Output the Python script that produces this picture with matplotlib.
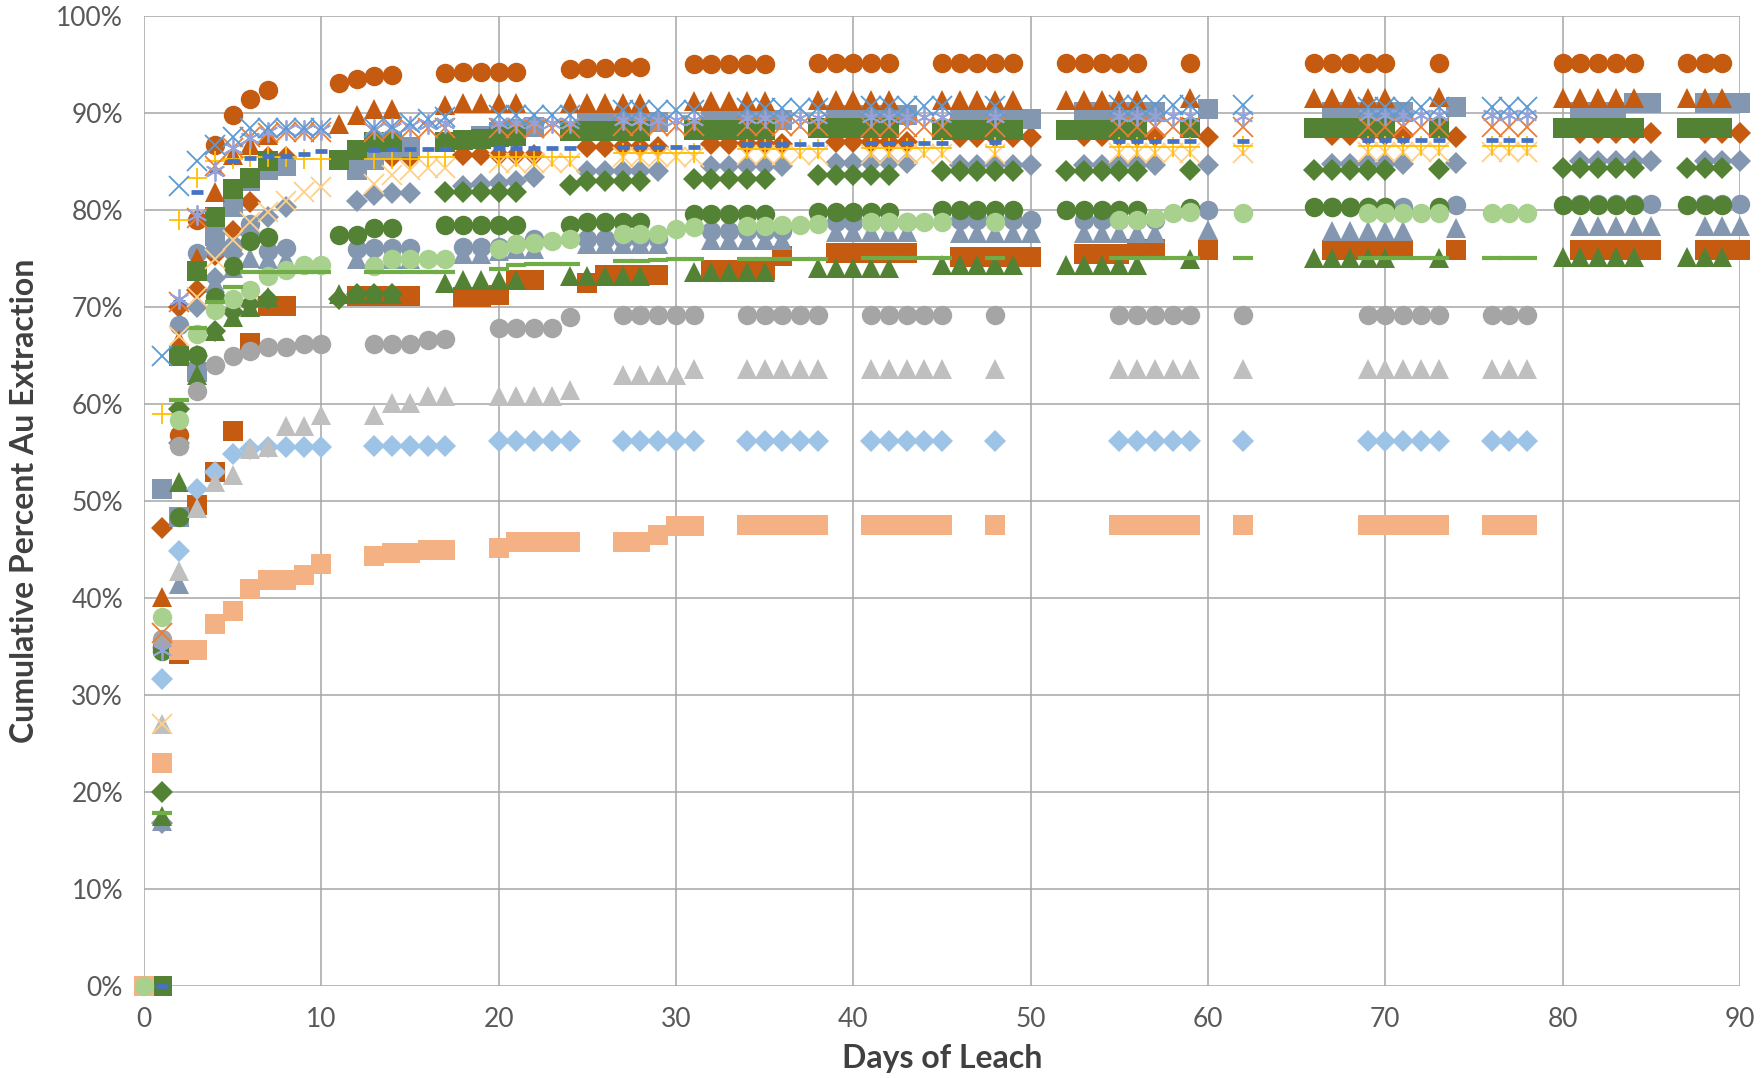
import numpy as np
import matplotlib.pyplot as plt
from matplotlib.ticker import PercentFormatter

nan = np.nan

# sampling days of the three groups of columns
days_a = [0, 1, 2, 3, 4, 5, 6, 7, 8, 9, 10,
          13, 14, 15, 16, 17,
          20, 21, 22, 23, 24,
          27, 28, 29, 30, 31,
          34, 35, 36, 37, 38,
          41, 42, 43, 44, 45,
          48,
          55, 56, 57, 58, 59,
          62,
          69, 70, 71, 72, 73,
          76, 77, 78]

days_b = [0, 1, 2, 3, 4, 5, 6, 7,
          11, 12, 13, 14,
          17, 18, 19, 20, 21,
          24, 25, 26, 27, 28,
          31, 32, 33, 34, 35,
          38, 39, 40, 41, 42,
          45, 46, 47, 48, 49,
          52, 53, 54, 55, 56,
          59,
          66, 67, 68, 69, 70,
          73,
          80, 81, 82, 83, 84,
          87, 88, 89]

days_c = [0, 1, 2, 3, 4, 5, 6, 7, 8,
          12, 13, 14, 15,
          18, 19, 20, 21, 22,
          25, 26, 27, 28, 29,
          32, 33, 34, 35, 36,
          39, 40, 41, 42, 43,
          46, 47, 48, 49, 50,
          53, 54, 55, 56, 57,
          60,
          67, 68, 69, 70, 71,
          74,
          81, 82, 83, 84, 85,
          88, 89, 90]

# ---- group C (to day 90)
orange_sq = [nan, 0.0, 34.2, 49.6, 53.0, 57.2, 66.3, 70.1, 70.1,
             71.1, 71.1, 71.1, 71.1,
             71.0, 71.0, 71.2, 72.8, 72.8,
             72.5, 73.3, 73.3, 73.3, 73.3,
             73.8, 73.8, 73.8, 73.8, 75.3,
             75.6, 75.6, 75.6, 75.6, 75.6,
             75.2, 75.2, 75.2, 75.2, 75.2,
             75.5, 75.5, 75.5, 76.0, 76.0,
             75.9,
             75.9, 75.9, 75.9, 75.9, 75.9,
             75.9,
             75.9, 75.9, 75.9, 75.9, 75.9,
             75.9, 75.9, 75.9]

orange_dia = [nan, 47.2, 70.0, 71.8, 75.4, 77.8, 80.8, 85.5, 85.5,
              85.1, 85.5, 85.5, 85.5,
              85.7, 85.7, 85.7, 85.7, 85.7,
              86.5, 86.5, 86.5, 86.5, 86.5,
              86.8, 86.8, 86.8, 86.8, 86.8,
              87.0, 87.0, 87.0, 87.0, 87.0,
              87.5, 87.5, 87.5, 87.5, 87.5,
              87.6, 87.6, 87.6, 87.6, 87.6,
              87.5,
              87.7, 87.7, 87.7, 87.7, 87.7,
              87.5,
              87.9, 87.9, 87.9, 87.9, 87.9,
              87.9, 87.9, 87.9]

bg_tri = [nan, 17.0, 41.4, 64.5, 72.5, 74.0, 75.0, 74.9, 74.9,
          74.9, 74.9, 74.9, 74.9,
          75.5, 75.5, 75.8, 76.0, 76.0,
          76.5, 76.5, 76.5, 76.5, 76.5,
          76.9, 76.9, 76.9, 76.9, 76.9,
          77.7, 77.7, 77.7, 77.7, 77.7,
          77.6, 77.6, 77.6, 77.6, 77.6,
          77.6, 77.6, 77.6, 77.6, 77.6,
          77.9,
          77.8, 77.8, 77.8, 77.8, 77.8,
          78.1,
          78.3, 78.3, 78.3, 78.3, 78.3,
          78.3, 78.3, 78.3]

bg_circ = [nan, 35.0, 68.1, 75.6, 76.0, 76.3, 78.6, 75.8, 76.1,
           76.0, 76.1, 76.1, 76.1,
           76.2, 76.2, 76.2, 76.5, 77.0,
           77.0, 77.0, 77.0, 77.0, 77.0,
           77.8, 77.8, 77.8, 77.8, 77.8,
           78.8, 78.8, 78.8, 78.8, 78.8,
           79.0, 79.0, 79.0, 79.0, 79.0,
           79.0, 79.0, 79.0, 79.0, 79.0,
           80.0,
           80.3, 80.3, 80.3, 80.3, 80.3,
           80.5,
           80.6, 80.6, 80.6, 80.6, 80.6,
           80.6, 80.6, 80.6]

bg_dia = [nan, 16.8, 56.0, 70.0, 73.0, 75.5, 77.5, 79.3, 80.3,
          80.9, 81.5, 81.8, 81.8,
          82.5, 82.7, 82.8, 83.0, 83.4,
          84.0, 84.0, 84.0, 84.0, 84.0,
          84.5, 84.5, 84.5, 84.5, 84.5,
          84.8, 84.8, 84.8, 84.8, 84.8,
          84.6, 84.6, 84.6, 84.6, 84.6,
          84.6, 84.6, 84.6, 84.6, 84.6,
          84.6,
          84.7, 84.7, 84.7, 84.7, 84.7,
          84.8,
          85.0, 85.0, 85.0, 85.0, 85.0,
          85.0, 85.0, 85.0]

bg_sq = [nan, 51.2, 48.4, 63.3, 77.3, 80.3, 83.0, 84.1, 84.5,
         84.1, 85.1, 86.2, 86.5,
         87.2, 87.6, 88.0, 88.3, 88.6,
         89.1, 89.1, 89.1, 89.1, 89.1,
         89.3, 89.3, 89.3, 89.3, 89.3,
         89.8, 89.8, 89.8, 89.8, 89.8,
         89.4, 89.4, 89.4, 89.4, 89.4,
         90.1, 90.1, 90.1, 90.1, 90.1,
         90.4,
         90.1, 90.1, 90.1, 90.1, 90.1,
         90.6,
         90.1, 90.1, 90.1, 91.0, 91.0,
         91.0, 91.0, 91.0]

# ---- group B (to day 89)
orange_circ = [nan, 35.0, 56.8, 79.0, 86.7, 89.8, 91.4, 92.4,
               93.1, 93.5, 93.8, 93.9,
               94.1, 94.2, 94.2, 94.2, 94.2,
               94.5, 94.6, 94.6, 94.7, 94.7,
               95.0, 95.0, 95.0, 95.0, 95.0,
               95.2, 95.2, 95.2, 95.2, 95.2,
               95.2, 95.2, 95.2, 95.2, 95.2,
               95.2, 95.2, 95.2, 95.2, 95.2,
               95.2,
               95.2, 95.2, 95.2, 95.2, 95.2,
               95.2,
               95.2, 95.2, 95.2, 95.2, 95.2,
               95.2, 95.2, 95.2]

orange_tri = [nan, 40.1, 66.6, 75.0, 81.9, 85.7, 86.7, 87.7,
              88.9, 89.8, 90.4, 90.4,
              90.8, 91.0, 91.0, 91.0, 91.0,
              91.0, 91.0, 91.0, 91.0, 91.0,
              91.2, 91.2, 91.2, 91.2, 91.2,
              91.3, 91.3, 91.3, 91.3, 91.3,
              91.3, 91.3, 91.3, 91.3, 91.3,
              91.3, 91.3, 91.3, 91.3, 91.3,
              91.5,
              91.5, 91.5, 91.5, 91.5, 91.5,
              91.6,
              91.5, 91.5, 91.5, 91.5, 91.5,
              91.5, 91.5, 91.5]

green_tri = [nan, 17.5, 52.0, 63.0, 67.5, 69.0, 70.0, 71.0,
             71.3, 71.3, 71.3, 71.3,
             72.5, 72.8, 72.8, 72.8, 72.8,
             73.2, 73.2, 73.2, 73.2, 73.2,
             73.6, 73.6, 73.6, 73.6, 73.6,
             74.0, 74.0, 74.0, 74.0, 74.0,
             74.3, 74.3, 74.3, 74.3, 74.3,
             74.3, 74.3, 74.3, 74.3, 74.3,
             74.9,
             75.0, 75.0, 75.0, 75.0, 75.0,
             75.0,
             75.2, 75.2, 75.2, 75.2, 75.2,
             75.2, 75.2, 75.2]

green_circ = [nan, 34.5, 48.4, 65.0, 71.0, 74.2, 76.8, 77.2,
              77.4, 77.4, 78.1, 78.1,
              78.4, 78.4, 78.4, 78.4, 78.4,
              78.5, 78.8, 78.8, 78.8, 78.8,
              79.6, 79.6, 79.6, 79.6, 79.6,
              79.8, 79.8, 79.8, 79.8, 79.8,
              80.0, 80.0, 80.0, 80.0, 80.0,
              80.0, 80.0, 80.0, 80.0, 80.0,
              80.2,
              80.3, 80.3, 80.3, 80.3, 80.3,
              80.3,
              80.5, 80.5, 80.5, 80.5, 80.5,
              80.5, 80.5, 80.5]

green_dia = [nan, 20.0, 59.5, 64.9, 67.5, 69.5, 70.3, 70.8,
             70.8, 71.3, 71.3, 71.3,
             81.9, 81.9, 81.9, 81.9, 81.9,
             82.6, 83.0, 83.0, 83.0, 83.0,
             83.2, 83.2, 83.2, 83.2, 83.2,
             83.6, 83.6, 83.6, 83.6, 83.6,
             84.0, 84.0, 84.0, 84.0, 84.0,
             84.0, 84.0, 84.0, 84.0, 84.0,
             84.1,
             84.1, 84.1, 84.1, 84.1, 84.1,
             84.2,
             84.3, 84.3, 84.3, 84.3, 84.3,
             84.3, 84.3, 84.3]

green_sq = [nan, 0.0, 64.9, 73.7, 79.3, 82.2, 83.3, 85.0,
            85.1, 86.2, 87.0, 87.0,
            87.0, 87.2, 87.3, 87.5, 87.6,
            88.1, 88.1, 88.1, 88.1, 88.1,
            88.2, 88.2, 88.2, 88.2, 88.2,
            88.4, 88.4, 88.4, 88.4, 88.4,
            88.2, 88.2, 88.2, 88.2, 88.2,
            88.2, 88.2, 88.2, 88.2, 88.2,
            88.5,
            88.5, 88.5, 88.5, 88.5, 88.5,
            88.5,
            88.5, 88.5, 88.5, 88.5, 88.5,
            88.5, 88.5, 88.5]

# ---- group A (to day 78)
salmon_sq = [0.0, 23.0, 34.6, 34.6, 37.3, 38.7, 40.9, 41.9, 41.9, 42.4, 43.5,
             44.3, 44.6, 44.6, 44.9, 44.9,
             45.2, 45.8, 45.8, 45.8, 45.8,
             45.8, 45.8, 46.5, 47.4, 47.4,
             47.5, 47.5, 47.5, 47.5, 47.5,
             47.5, 47.5, 47.5, 47.5, 47.5,
             47.5,
             47.5, 47.5, 47.5, 47.5, 47.5,
             47.5,
             47.5, 47.5, 47.5, 47.5, 47.5,
             47.5, 47.5, 47.5]

ltblue_dia = [nan, 31.7, 44.8, 51.2, 53.0, 54.8, 55.4, 55.6, 55.6, 55.6, 55.6,
              55.7, 55.7, 55.7, 55.7, 55.7,
              56.2, 56.2, 56.2, 56.2, 56.2,
              56.2, 56.2, 56.2, 56.2, 56.2,
              56.2, 56.2, 56.2, 56.2, 56.2,
              56.2, 56.2, 56.2, 56.2, 56.2,
              56.2,
              56.2, 56.2, 56.2, 56.2, 56.2,
              56.2,
              56.2, 56.2, 56.2, 56.2, 56.2,
              56.2, 56.2, 56.2]

ltgrey_tri = [nan, 27.0, 42.8, 49.3, 52.0, 52.7, 55.4, 55.6, 57.7, 57.7, 58.9,
              58.9, 60.1, 60.1, 60.8, 60.8,
              60.8, 60.8, 60.8, 60.8, 61.4,
              63.0, 63.0, 63.0, 63.0, 63.6,
              63.6, 63.6, 63.6, 63.6, 63.6,
              63.6, 63.6, 63.6, 63.6, 63.6,
              63.6,
              63.6, 63.6, 63.6, 63.6, 63.6,
              63.6,
              63.6, 63.6, 63.6, 63.6, 63.6,
              63.6, 63.6, 63.6]

grey_circ = [nan, 35.8, 55.7, 61.3, 64.0, 64.9, 65.5, 65.9, 65.9, 66.2, 66.2,
             66.2, 66.2, 66.2, 66.6, 66.7,
             67.8, 67.8, 67.8, 67.8, 69.0,
             69.2, 69.2, 69.2, 69.2, 69.2,
             69.2, 69.2, 69.2, 69.2, 69.2,
             69.2, 69.2, 69.2, 69.2, 69.2,
             69.2,
             69.2, 69.2, 69.2, 69.2, 69.2,
             69.2,
             69.2, 69.2, 69.2, 69.2, 69.2,
             69.2, 69.2, 69.2]

ltgreen_circ = [0.0, 38.0, 58.4, 67.2, 69.7, 70.8, 71.8, 73.2, 73.8, 74.3, 74.3,
                74.2, 74.9, 74.9, 74.9, 74.9,
                76.0, 76.5, 76.6, 76.8, 77.0,
                77.5, 77.5, 77.5, 78.0, 78.2,
                78.3, 78.3, 78.4, 78.5, 78.6,
                78.8, 78.8, 78.8, 78.8, 78.8,
                78.8,
                79.0, 79.0, 79.2, 79.7, 79.8,
                79.7,
                79.7, 79.7, 79.7, 79.7, 79.7,
                79.7, 79.7, 79.7]

ltgreen_dash = [nan, 17.8, 60.4, 67.8, 70.5, 72.1, 73.6, 73.6, 73.6, 73.6, 73.6,
                73.6, 73.6, 73.6, 73.6, 73.6,
                73.9, 74.3, 74.4, 74.4, 74.4,
                74.7, 74.7, 74.8, 74.9, 74.9,
                74.9, 74.9, 74.9, 74.9, 74.9,
                75.0, 75.0, 75.0, 75.0, 75.0,
                75.0,
                75.0, 75.0, 75.0, 75.0, 75.0,
                75.0,
                75.0, 75.0, 75.0, 75.0, 75.0,
                75.0, 75.0, 75.0]

peach_x = [nan, 27.0, 67.0, 71.0, 74.9, 76.9, 78.8, 79.8, 80.9, 81.9, 82.4,
           82.7, 83.6, 84.1, 84.3, 84.3,
           84.8, 84.8, 84.8, 84.8, 84.8,
           85.5, 85.5, 85.5, 85.5, 85.5,
           85.7, 85.7, 85.7, 85.7, 85.7,
           85.8, 85.8, 85.8, 85.8, 85.8,
           85.8,
           85.9, 85.9, 85.9, 85.9, 85.9,
           85.9,
           86.0, 86.0, 86.0, 86.0, 86.0,
           86.0, 86.0, 86.0]

yellow_plus = [nan, 59.0, 79.0, 83.3, 85.0, 85.3, 85.5, 85.5, 85.5, 85.3, 85.3,
               85.3, 85.3, 85.3, 85.5, 85.5,
               85.5, 85.5, 85.5, 85.5, 85.5,
               85.9, 85.9, 85.9, 85.9, 85.9,
               86.3, 86.3, 86.3, 86.3, 86.3,
               86.4, 86.4, 86.4, 86.4, 86.4,
               86.5,
               86.5, 86.5, 86.5, 86.5, 86.5,
               86.6,
               86.6, 86.6, 86.6, 86.6, 86.6,
               86.6, 86.6, 86.6]

blue_dash = [nan, 0.0, 70.5, 81.9, 84.0, 85.0, 85.4, 85.6, 85.6, 85.8, 86.1,
             86.2, 86.3, 86.3, 86.3, 86.3,
             86.4, 86.4, 86.4, 86.4, 86.4,
             86.5, 86.5, 86.5, 86.5, 86.5,
             86.8, 86.8, 86.8, 86.8, 86.8,
             86.9, 86.9, 86.9, 86.9, 86.9,
             87.0,
             87.1, 87.1, 87.1, 87.1, 87.1,
             87.1,
             87.2, 87.2, 87.2, 87.2, 87.2,
             87.2, 87.2, 87.2]

orange_x = [nan, 36.4, 70.5, 79.2, 84.5, 86.4, 87.5, 87.9, 88.0, 88.0, 88.0,
            88.0, 88.2, 88.3, 88.4, 88.5,
            88.5, 88.5, 88.5, 88.5, 88.5,
            88.7, 88.7, 88.7, 88.7, 88.7,
            88.7, 88.7, 88.7, 88.7, 88.7,
            88.6, 88.6, 88.6, 88.6, 88.6,
            88.6,
            88.6, 88.6, 88.6, 88.6, 88.6,
            88.6,
            88.6, 88.6, 88.6, 88.6, 88.6,
            88.6, 88.6, 88.6]

purple_star = [nan, 34.6, 70.8, 79.5, 84.0, 86.4, 87.4, 88.0, 88.2, 88.2, 88.2,
               88.3, 88.5, 88.7, 88.9, 89.0,
               89.0, 89.0, 89.0, 89.0, 89.0,
               89.3, 89.3, 89.3, 89.3, 89.3,
               89.5, 89.5, 89.5, 89.5, 89.5,
               89.6, 89.6, 89.6, 89.6, 89.6,
               89.6,
               89.7, 89.7, 89.7, 89.7, 89.7,
               89.7,
               89.8, 89.8, 89.8, 89.8, 89.8,
               89.8, 89.8, 89.8]

ltblue_x = [nan, 64.9, 82.5, 85.0, 86.7, 87.5, 88.4, 88.4, 88.4, 88.4, 88.4,
            88.4, 88.6, 89.0, 89.4, 89.6,
            89.8, 89.8, 89.8, 89.8, 89.8,
            90.3, 90.3, 90.3, 90.3, 90.3,
            90.5, 90.5, 90.5, 90.5, 90.5,
            90.7, 90.7, 90.7, 90.7, 90.7,
            90.7,
            90.8, 90.8, 90.8, 90.8, 90.8,
            90.8,
            90.6, 90.6, 90.6, 90.6, 90.6,
            90.6, 90.6, 90.6]

plt.rcParams['font.family'] = ['Lato', 'DejaVu Sans']

fig = plt.figure(figsize=(17.64, 10.78), dpi=100)
ax = fig.add_axes([0.0816, 0.0853, 0.9048, 0.8999])


def scatter(days, vals, marker, color, ms, mew=0.0, filled=True):
    x = np.array(days, dtype=float)
    y = np.array(vals, dtype=float) / 100.0
    if filled:
        ax.plot(x, y, ls='none', marker=marker, ms=ms, mfc=color, mec=color,
                mew=mew, clip_on=False)
    else:
        ax.plot(x, y, ls='none', marker=marker, ms=ms, mfc='none', mec=color,
                mew=mew, clip_on=False)


# bottom group first, Excel draws later series on top
scatter(days_c, orange_sq, 's', '#C55A11', 14.5)
scatter(days_c, orange_dia, 'D', '#C55A11', 11)
scatter(days_c, bg_tri, '^', '#8497B0', 14.5)
scatter(days_c, bg_circ, 'o', '#8497B0', 14)
scatter(days_c, bg_dia, 'D', '#8497B0', 11)
scatter(days_c, bg_sq, 's', '#8497B0', 14.5)

scatter(days_b, orange_circ, 'o', '#C55A11', 14)
scatter(days_b, orange_tri, '^', '#C55A11', 14.5)
scatter(days_b, green_tri, '^', '#548235', 14.5)
scatter(days_b, green_circ, 'o', '#548235', 14)
scatter(days_b, green_dia, 'D', '#548235', 11)
scatter(days_b, green_sq, 's', '#548235', 14.5)

scatter(days_a, salmon_sq, 's', '#F4B183', 14.5)
scatter(days_a, ltblue_dia, 'D', '#9DC3E6', 11)
scatter(days_a, ltgrey_tri, '^', '#BFBFBF', 14.5)
scatter(days_a, grey_circ, 'o', '#A5A5A5', 14)
scatter(days_a, ltgreen_circ, 'o', '#A9D18E', 14)
scatter(days_a, ltgreen_dash, '_', '#70AD47', 14, mew=3.0)
scatter(days_a, peach_x, 'x', '#FFCF87', 14.5, mew=1.3, filled=False)
scatter(days_a, yellow_plus, '+', '#FFC000', 14, mew=1.3, filled=False)
scatter(days_a, blue_dash, '_', '#4472C4', 8, mew=3.4)
scatter(days_a, orange_x, 'x', '#ED7D31', 14.5, mew=1.3, filled=False)
scatter(days_a, purple_star, (6, 2, 0), '#95A3DA', 14.5, mew=1.3, filled=False)
scatter(days_a, ltblue_x, 'x', '#5B9BD5', 14.5, mew=1.3, filled=False)

ax.set_xlim(0, 90)
ax.set_ylim(0, 1.0)
ax.set_xticks(np.arange(0, 91, 10))
ax.set_yticks(np.arange(0, 1.01, 0.1))
ax.yaxis.set_major_formatter(PercentFormatter(1.0, decimals=0))

ax.grid(True, color='#A6A6A6', lw=1.1)
ax.set_axisbelow(True)
for s in ax.spines.values():
    s.set_visible(False)

ax.tick_params(length=0, labelsize=19, labelcolor='#595959')
ax.tick_params(axis='y', pad=15)
ax.tick_params(axis='x', pad=15)

ax.set_xlabel('Days of Leach', fontsize=23, fontweight='bold', color='#404040')
ax.set_ylabel('Cumulative Percent Au Extraction', fontsize=23,
              fontweight='bold', color='#404040')
ax.xaxis.set_label_coords(0.5, -0.06)
ax.yaxis.set_label_coords(-0.066, 0.5)

fig.savefig('out.png', dpi=100)
